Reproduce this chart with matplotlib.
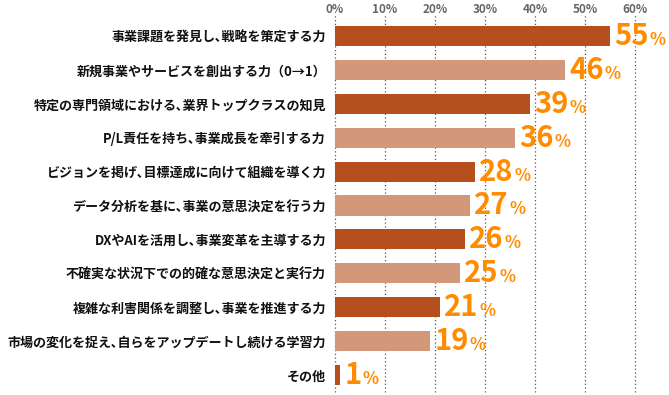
import matplotlib.pyplot as plt
import numpy as np

plt.rcParams['font.family'] = ['Noto Sans CJK JP', 'DejaVu Sans']

categories = [
    "事業課題を発見し､戦略を策定する力",
    "新規事業やサービスを創出する力（0→1）",
    "特定の専門領域における､業界トップクラスの知見",
    "P/L責任を持ち､事業成長を牽引する力",
    "ビジョンを掲げ､目標達成に向けて組織を導く力",
    "データ分析を基に､事業の意思決定を行う力",
    "DXやAIを活用し､事業変革を主導する力",
    "不確実な状況下での的確な意思決定と実行力",
    "複雑な利害関係を調整し､事業を推進する力",
    "市場の変化を捉え､自らをアップデートし続ける学習力",
    "その他",
]
values = [55, 46, 39, 36, 28, 27, 26, 25, 21, 19, 1]
ticks = [0, 10, 20, 30, 40, 50, 60]

dark = "#b5501e"
light = "#d3977a"
orange = "#ff8c00"
colors = [dark if i % 2 == 0 else light for i in range(len(values))]

fig = plt.figure(figsize=(6.69, 3.95), dpi=100)
# 0% at x=335px, 60% at x=635px ; rows centred 36 .. 375 px
ax = fig.add_axes([335/669, 1 - 392/395, 300/669, (392 - 19)/395])
y = np.arange(len(values))
ax.barh(y, values, height=0.59, color=colors, zorder=2)
ax.set_xlim(0, 60)
ax.set_ylim(len(values) - 0.5, -0.5)

# dotted grid lines, a bit above the axes
for t in ticks:
    ax.plot([t, t], [len(values) - 0.5, -0.66], ls=(0, (1, 2)), lw=0.9,
            color="#555555", zorder=1, clip_on=False)

ax.set_xticks(ticks)
ax.set_xticklabels([f"{t}%" for t in ticks], fontsize=8.5, fontweight="bold", color="#666666")
ax.xaxis.tick_top()
ax.tick_params(axis="x", length=0, pad=2.5)
ax.set_yticks(y)
ax.set_yticklabels(categories, fontsize=9.4, fontweight="bold", color="#111111")
ax.tick_params(axis="y", length=0, pad=6.5)
for s in ax.spines.values():
    s.set_visible(False)

fig.canvas.draw()
r = fig.canvas.get_renderer()
for yi, v in zip(y, values):
    t1 = ax.annotate(f"{v}", (v, yi), xytext=(3, 0), textcoords="offset points",
                     ha="left", va="center", fontsize=21, fontweight="bold",
                     color=orange)
    bb = t1.get_window_extent(r)
    x_disp = bb.x1 + 1
    y_disp = ax.transData.transform((0, yi))[1]
    fig.text(x_disp / fig.dpi / 6.69, (y_disp - 4) / fig.dpi / 3.95, "%",
             ha="left", va="center", fontsize=12, fontweight="bold", color=orange)

fig.savefig("out.png", dpi=100)
